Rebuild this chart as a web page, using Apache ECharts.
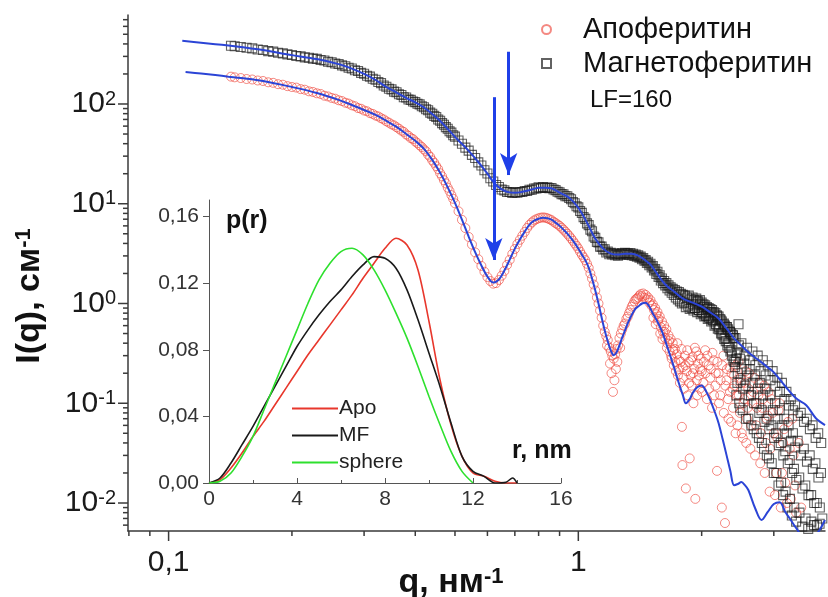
<!DOCTYPE html>
<html><head><meta charset="utf-8">
<script src="https://cdn.jsdelivr.net/npm/echarts@6/dist/echarts.min.js"></script>
<style>html,body{margin:0;padding:0;background:#fff}#c{width:828px;height:597px}</style>
</head><body><div id="c"></div>
<script>
const FONT = '"Liberation Sans", Arial, sans-serif';

// ---------- main plot: I(q) ----------
const smoothQ = [
0.142,0.145,0.15,0.155,0.16,0.165,0.17,0.175,0.18,0.185,
0.19,0.195,0.2,0.205,0.21,0.215,0.22,0.225,0.23,0.235,
0.24,0.245,0.25,0.255,0.26,0.265,0.27,0.275,0.28,0.285,
0.29,0.295,0.3,0.305,0.31,0.315,0.32,0.325,0.33,0.335,
0.34,0.345,0.35,0.355,0.36,0.365,0.37,0.375,0.38,0.385,
0.39,0.395,0.4,0.405,0.41,0.415,0.42,0.425,0.43,0.435,
0.44,0.445,0.45,0.455,0.46,0.465,0.47,0.475,0.48,0.485,
0.49,0.495,0.5,0.51,0.52,0.53,0.54,0.55,0.56,0.57,
0.58,0.59,0.6,0.61,0.62,0.63,0.64,0.65,0.66,0.67,
0.68,0.69,0.7,0.71,0.72,0.73,0.74,0.75,0.76,0.77,
0.78,0.79,0.8,0.81,0.82,0.83,0.84,0.85,0.86,0.87,
0.88,0.89,0.9,0.91,0.92,0.93,0.94,0.95,0.96,0.97,
0.98,0.99,1.0,1.01,1.02,1.03,1.04,1.05,1.06,1.07,
1.08,1.09,1.1,1.11,1.12,1.13,1.14];

const apoSmoothI = [
188,185,182,178,176,172,170,165,163,158,
156,151,148,146,141,139,134,132,128,126,
121,119,115,113,109,107,103,101,97,95,
91,89.5,86,84.5,81,79.5,76.5,75,72,70,
67,65,62.5,61,58.5,56.5,54,52.5,49.5,48,
45.5,44.5,42,40.5,38.5,37,35,33.5,31,29.5,
27.2,25.7,23.8,22.2,20.2,18.8,17.2,16,14.5,13.4,
12.2,11.2,10.1,8.4,6.9,5.7,4.65,3.9,3.25,2.78,
2.38,2.08,1.84,1.68,1.58,1.6,1.72,1.9,2.12,2.44,
2.74,3.14,3.52,3.95,4.35,4.78,5.22,5.72,6.15,6.5,
6.8,7.0,7.15,7.25,7.3,7.25,7.15,7.0,6.85,6.6,
6.4,6.2,6.0,5.75,5.5,5.25,5.0,4.75,4.5,4.25,
4.0,3.78,3.55,3.3,3.08,2.9,2.72,2.5,2.28,2.0,
1.78,1.55,1.35,1.15,1.0,0.85,0.72];

const mfSmoothI = [
383,379,373,366,361,352,348,339,335,326,
322,314,310,303,300,293,291,285,283,276,
273,265,262,255,252,244,239,231,227,218,
214,205,201,192,188,179,175,166,162,153,
149,142,140,133,131,125,123,117,116,111,
110,106,104.5,100.5,99,95,92.8,88.5,86.5,82,
79.8,76,74,70,68,64.3,62,58.6,56.5,53.3,
51.6,48.6,47.1,43.0,40.0,36.5,34.1,30.9,28.7,26.0,
24.2,21.7,20.1,18.0,16.7,15.4,14.7,13.9,13.6,13.1,
13.1,12.8,13.0,12.9,13.1,13.1,13.4,13.4,13.8,13.8,
14.2,14.2,14.6,14.4,14.7,14.4,14.6,14.3,14.4,13.9,
13.7,13.2,13.0,12.5,12.4,11.9,11.9,11.4,11.1,10.4,
10.1,9.45,9.2,8.45,8.1,7.35,7.05,6.35,6.1,5.5,
5.3,4.7,4.55,4.15,4.1,3.72,3.72];

const mfMidQ = [
1.15,1.16,1.17,1.18,1.19,1.2,1.21,1.22,1.23,1.24,
1.25,1.26,1.27,1.28,1.29,1.3,1.31,1.32,1.33,1.34,
1.35,1.36,1.37,1.38,1.39,1.4,1.41,1.42,1.43,1.44,
1.45,1.46,1.47,1.48,1.49,1.5,1.51,1.52,1.53,1.54,
1.55,1.56,1.57,1.58,1.59,1.6,1.61,1.62,1.63,1.64,
1.65,1.66,1.67,1.68,1.69,1.7,1.71,1.72,1.73,1.74,
1.75,1.76,1.77,1.78,1.79,1.8];
const mfMidI = [
3.48,3.5,3.25,3.32,3.12,3.22,3.10,3.18,3.05,3.15,
3.02,3.14,3.10,3.20,3.08,3.22,3.12,3.18,3.08,3.20,
3.05,3.15,3.00,3.10,2.95,3.05,2.88,2.95,2.78,2.85,
2.68,2.72,2.55,2.62,2.42,2.50,2.30,2.38,2.15,2.22,
1.98,2.08,1.85,1.92,1.70,1.78,1.60,1.68,1.52,1.60,
1.42,1.52,1.35,1.45,1.28,1.40,1.22,1.36,1.15,1.32,
1.10,1.30,1.05,1.25,1.00,1.22];

const apoTail = [
[1.15,0.6],[1.16,0.52],[1.17,0.47],[1.175,0.38],[1.18,0.43],[1.19,0.36],[1.195,0.25],[1.2,0.33],[1.205,0.2],[1.21,0.3],
[1.215,0.13],[1.22,0.28],[1.225,0.17],[1.23,0.31],[1.235,0.22],[1.24,0.35],[1.245,0.26],[1.25,0.38],[1.26,0.45],[1.265,0.36],
[1.27,0.5],[1.28,0.55],[1.29,0.6],[1.3,0.63],[1.31,0.7],[1.32,0.74],[1.33,0.8],[1.34,0.86],[1.35,0.93],[1.36,0.98],
[1.37,1.05],[1.38,1.1],[1.39,1.12],[1.4,1.15],[1.41,1.2],[1.42,1.24],[1.43,1.18],[1.44,1.26],[1.45,1.14],[1.46,1.22],
[1.47,1.1],[1.48,1.15],[1.49,1.02],[1.5,1.08],[1.51,0.95],[1.52,0.98],[1.53,0.86],[1.54,0.9],[1.55,0.78],[1.56,0.82],
[1.57,0.7],[1.58,0.74],[1.59,0.58],[1.6,0.66],[1.61,0.52],[1.62,0.6],[1.63,0.45],[1.64,0.55],[1.65,0.4],[1.66,0.48],
[1.67,0.33],[1.68,0.44],[1.69,0.28],[1.7,0.4],[1.71,0.24],[1.72,0.35],[1.73,0.21],[1.74,0.31],[1.75,0.19],[1.76,0.27],
[1.77,0.16],[1.78,0.26],[1.79,0.058],[1.795,0.024],[1.8,0.23],[1.81,0.14],[1.82,0.3],[1.83,0.014],[1.84,0.21],[1.85,0.12],
[1.86,0.26],[1.87,0.028],[1.88,0.19],[1.89,0.15],[1.9,0.29],[1.91,0.1],[1.92,0.22],[1.93,0.011],[1.94,0.33],[1.95,0.12],
[1.96,0.25],[1.97,0.19],[1.98,0.14],[1.99,0.28],[2.0,0.21],[2.02,0.16],[2.04,0.34],[2.06,0.11],[2.08,0.24],[2.1,0.18],
[2.12,0.09],[2.14,0.27],[2.16,0.15],[2.18,0.021],[2.2,0.2],[2.22,0.12],[2.24,0.009],[2.26,0.3],[2.28,0.0063],[2.3,0.17],
[2.32,0.11],[2.34,0.23],[2.36,0.065],[2.38,0.14],[2.4,0.19],[2.42,0.05],[2.44,0.12],[2.46,0.26],[2.48,0.08],[2.5,0.16],
[2.52,0.045],[2.54,0.11],[2.56,0.21],[2.58,0.07],[2.6,0.14],[2.63,0.035],[2.66,0.1],[2.69,0.18],[2.72,0.06],[2.75,0.12],
[2.78,0.025],[2.81,0.09],[2.84,0.15],[2.87,0.04],[2.9,0.075],[2.93,0.013],[2.96,0.11],[3.0,0.05],[3.04,0.02],[3.08,0.085],
[3.12,0.009],[3.16,0.04],[3.2,0.016],[3.25,0.065],[3.3,0.011],[3.35,0.03],[3.4,0.008]];

const apoTail2 = [
[1.525,0.72],[1.545,0.62],[1.565,0.66],[1.585,0.5],[1.605,0.44],[1.625,0.52],[1.645,0.36],[1.665,0.42],[1.685,0.3],[1.705,0.34],
[1.725,0.26],[1.745,0.4],[1.765,0.22],[1.785,0.35],[1.805,0.18],[1.825,0.24],[1.845,0.34],[1.865,0.16],[1.885,0.27],[1.905,0.2],
[1.925,0.36],[1.945,0.17],[1.965,0.3],[1.985,0.22],[2.005,0.13],[2.025,0.26],[2.045,0.2],[2.065,0.3],[2.085,0.14],[2.105,0.22],
[2.125,0.32],[2.145,0.12],[2.165,0.2],[2.185,0.26],[2.205,0.1],[2.225,0.17],[2.245,0.24],[2.265,0.08],[2.285,0.15],[2.305,0.22],
[2.325,0.07],[2.345,0.13],[2.365,0.2],[2.385,0.09],[2.405,0.15],[2.425,0.24],[2.445,0.06],[2.465,0.12],[2.485,0.18],[2.505,0.05],
[2.53,0.1],[2.55,0.16],[2.57,0.04],[2.59,0.09],[2.61,0.2],[2.64,0.06],[2.67,0.13],[2.7,0.03],[2.73,0.09],[2.76,0.16],
[2.79,0.05],[2.82,0.11],[2.85,0.02],[2.88,0.07],[2.91,0.13],[2.94,0.035],[2.98,0.08],[3.02,0.012],[3.06,0.045],[3.1,0.1],
[3.14,0.02],[3.18,0.055],[3.23,0.01],[3.28,0.035],[3.33,0.07],[3.38,0.015],[3.45,0.04],[3.5,0.009]];

const mfTail = [
[1.81,1.02],[1.82,1.2],[1.83,0.92],[1.84,1.15],[1.85,0.95],[1.86,1.2],[1.87,0.88],[1.88,1.1],[1.89,0.9],[1.9,1.15],
[1.91,0.85],[1.92,1.08],[1.93,0.9],[1.94,1.12],[1.95,0.82],[1.96,1.05],[1.97,0.86],[1.98,1.08],[1.99,0.78],[2.0,1.02],
[2.01,0.8],[2.02,0.98],[2.03,0.74],[2.04,0.96],[2.05,0.76],[2.06,0.92],[2.07,0.7],[2.08,0.9],[2.09,0.72],[2.1,0.88],
[2.11,0.66],[2.12,0.86],[2.13,0.68],[2.14,0.82],[2.15,0.6],[2.16,0.8],[2.17,0.62],[2.18,0.76],[2.19,0.56],[2.2,0.74],
[2.21,0.55],[2.22,0.7],[2.23,0.5],[2.24,0.66],[2.25,0.48],[2.26,0.62],[2.27,0.44],[2.28,0.6],[2.29,0.42],[2.3,0.58],
[2.31,0.38],[2.32,0.55],[2.33,0.36],[2.34,0.52],[2.35,0.33],[2.36,0.5],[2.37,0.3],[2.38,0.48],[2.39,0.27],[2.4,0.45],
[2.41,0.23],[2.42,0.45],[2.43,0.12],[2.44,0.32],[2.45,0.2],[2.46,0.62],[2.47,0.1],[2.48,0.28],[2.49,0.17],[2.5,0.4],
[2.52,0.085],[2.54,0.25],[2.56,0.15],[2.58,0.36],[2.6,0.07],[2.62,0.22],[2.64,0.12],[2.66,0.33],[2.68,0.055],[2.7,0.19],
[2.72,0.1],[2.74,0.3],[2.76,0.045],[2.78,0.16],[2.8,0.085],[2.82,0.27],[2.84,0.035],[2.86,0.14],[2.88,0.07],[2.9,0.24],
[2.92,0.028],[2.94,0.12],[2.96,0.06],[2.98,0.21],[3.0,0.02],[3.02,0.1],[3.04,0.05],[3.06,0.18],[3.08,0.015],[3.1,0.085],
[3.12,0.04],[3.14,0.16],[3.16,0.012],[3.18,0.07],[3.2,0.033],[3.22,0.13],[3.24,0.009],[3.26,0.06],[3.28,0.027],[3.3,0.11],
[3.32,0.0075],[3.34,0.05],[3.36,0.022],[3.38,0.095],[3.4,0.0065],[3.43,0.042],[3.46,0.018],[3.49,0.08],[3.52,0.0058],[3.55,0.035],
[3.58,0.015],[3.61,0.07],[3.64,0.0055],[3.67,0.03],[3.7,0.012],[3.73,0.06],[3.76,0.006],[3.79,0.025],[3.82,0.01],[3.85,0.05],
[3.88,0.0062],[3.91,0.02]];

const mfTail2 = [
[1.905,0.98],[1.925,0.9],[1.945,1.05],[1.965,0.86],[1.985,0.98],[2.005,0.82],[2.025,0.93],[2.045,0.75],[2.065,0.88],[2.085,0.72],
[2.105,0.82],[2.125,0.68],[2.145,0.78],[2.165,0.62],[2.185,0.74],[2.205,0.58],[2.225,0.68],[2.245,0.5],[2.265,0.63],[2.285,0.45],
[2.305,0.58],[2.325,0.4],[2.345,0.52],[2.365,0.34],[2.385,0.48],[2.405,0.26],[2.425,0.28],[2.445,0.16],[2.465,0.38],[2.485,0.09],
[2.505,0.22],[2.525,0.14],[2.545,0.3],[2.565,0.07],[2.585,0.19],[2.605,0.12],[2.625,0.27],[2.645,0.06],[2.665,0.16],[2.685,0.1],
[2.705,0.24],[2.725,0.05],[2.745,0.14],[2.765,0.08],[2.785,0.21],[2.805,0.04],[2.825,0.12],[2.845,0.065],[2.865,0.19],[2.885,0.03],
[2.905,0.1],[2.925,0.055],[2.945,0.17],[2.965,0.025],[2.985,0.085],[3.005,0.045],[3.025,0.15],[3.045,0.02],[3.065,0.07],[3.085,0.038],
[3.105,0.13],[3.125,0.016],[3.145,0.06],[3.165,0.03],[3.185,0.11],[3.205,0.013],[3.225,0.05],[3.245,0.025],[3.265,0.095],[3.285,0.011],
[3.305,0.042],[3.325,0.02],[3.345,0.085],[3.365,0.009],[3.385,0.036],[3.405,0.017],[3.435,0.075],[3.465,0.008],[3.495,0.03],[3.525,0.014],
[3.555,0.065],[3.585,0.007],[3.615,0.026],[3.645,0.012],[3.675,0.055],[3.705,0.0065],[3.735,0.022],[3.765,0.01],[3.795,0.045],[3.825,0.006],
[3.855,0.018],[3.885,0.009],[3.915,0.04],[3.94,0.007]];

const apoFit = [
[0.11,209],[0.12,202],[0.13,195],[0.14,188],[0.15,182],[0.17,170],[0.2,148],[0.23,129],[0.26,110],[0.28,97.7],
[0.3,87.1],[0.32,77.6],[0.34,67.6],[0.36,58.9],[0.38,50.1],[0.4,42.7],[0.42,35.5],[0.44,27.5],[0.46,20.4],[0.48,14.6],
[0.5,10.2],[0.52,6.92],[0.54,4.68],[0.56,3.27],[0.58,2.4],[0.6,1.86],[0.62,1.62],[0.64,1.74],[0.66,2.14],[0.68,2.75],
[0.7,3.55],[0.72,4.37],[0.74,5.25],[0.76,6.17],[0.78,6.76],[0.8,7.08],[0.82,7.24],[0.84,7.16],[0.86,6.92],[0.88,6.46],
[0.9,6.03],[0.92,5.5],[0.94,5.01],[0.96,4.52],[0.98,4.03],[1.0,3.55],[1.02,3.09],[1.04,2.72],[1.06,2.29],[1.08,1.78],
[1.1,1.35],[1.12,1.0],[1.14,0.724],[1.16,0.537],[1.18,0.417],[1.2,0.339],[1.22,0.302],[1.24,0.324],[1.26,0.38],[1.28,0.457],
[1.3,0.537],[1.32,0.631],[1.34,0.724],[1.36,0.813],[1.38,0.891],[1.4,0.933],[1.43,1.0],[1.46,1.02],[1.49,0.933],[1.52,0.794],
[1.55,0.692],[1.6,0.525],[1.65,0.363],[1.7,0.251],[1.75,0.17],[1.8,0.12],[1.83,0.1],[1.87,0.11],[1.9,0.126],[1.95,0.145],
[2.0,0.151],[2.05,0.132],[2.1,0.107],[2.15,0.0832],[2.2,0.0631],[2.25,0.0437],[2.3,0.0302],[2.35,0.0209],[2.4,0.0151],[2.45,0.0155],
[2.5,0.0162],[2.55,0.0151],[2.6,0.0135],[2.7,0.00891],[2.8,0.00676],[2.9,0.00813],[3.0,0.00977],[3.1,0.0102],[3.2,0.00813],[3.3,0.00676],
[3.4,0.00562],[3.6,0.00427],[3.8,0.00479],[4.0,0.00676]];

const mfFit = [
[0.108,430],[0.12,412],[0.13,398],[0.14,385],[0.15,372],[0.17,347],[0.2,309],[0.23,282],[0.26,251],[0.28,226],
[0.3,200],[0.32,174],[0.34,148],[0.36,130],[0.38,115],[0.4,104],[0.42,92.3],[0.44,79.4],[0.46,67.6],[0.48,56.2],
[0.5,46.8],[0.52,39.8],[0.54,33.9],[0.56,28.5],[0.58,24.0],[0.6,20.0],[0.62,16.6],[0.64,14.6],[0.66,13.5],[0.68,13.0],
[0.7,12.9],[0.72,13.0],[0.75,13.5],[0.78,14.1],[0.8,14.5],[0.83,14.5],[0.86,14.3],[0.9,12.9],[0.95,11.5],[1.0,9.12],
[1.05,6.46],[1.1,4.47],[1.15,3.55],[1.2,3.16],[1.25,3.09],[1.3,3.16],[1.35,3.16],[1.4,3.02],[1.45,2.75],[1.5,2.45],
[1.55,2.04],[1.6,1.7],[1.65,1.48],[1.7,1.35],[1.8,1.12],[1.9,1.02],[2.0,0.933],[2.1,0.813],[2.2,0.708],[2.3,0.562],
[2.4,0.447],[2.5,0.38],[2.6,0.324],[2.7,0.288],[2.8,0.257],[2.9,0.229],[3.0,0.204],[3.2,0.148],[3.4,0.112],[3.6,0.0955],
[3.8,0.0708],[4.0,0.0603]];

// arrows marking the minima: [q, I from, I to]
const arrows = [[0.622, 117, 2.73], [0.676, 334, 19.4]];

// axis ranges and ticks
const X_MIN = 0.0796, X_MAX = 4.0, Y_MIN = 0.00524, Y_MAX = 780;
const xMajorTicks = [0.1, 1];
const xMinorTicks = [0.08,0.09,0.2,0.3,0.4,0.5,0.6,0.7,0.8,0.9,2,3];
const yMajorTicks = [0.01,0.1,1,10,100];
const yMinorTicks = [0.006,0.007,0.008,0.009,0.02,0.03,0.04,0.05,0.06,0.07,0.08,0.09,
  0.2,0.3,0.4,0.5,0.6,0.7,0.8,0.9,2,3,4,5,6,7,8,9,20,30,40,50,60,70,80,90,200,300,400,500,600,700];

// ---------- inset: p(r) ----------
const rGrid = [0,0.5,1,1.5,2,2.5,3,3.5,4,4.5,5,5.5,6,6.5,7,7.5,8,8.5,9,9.5,10,10.5,11,11.5,12,12.5,13,13.5,13.8,14];
const pApo = [0,0.002,0.009,0.018,0.028,0.037,0.047,0.057,0.067,0.077,0.086,0.095,0.104,0.113,0.123,0.132,0.141,0.147,0.143,0.128,0.097,0.062,0.035,0.016,0.006,0.004,0.001,0,0,0];
const pMF = [0,0.003,0.012,0.023,0.034,0.046,0.058,0.070,0.082,0.092,0.101,0.109,0.116,0.124,0.131,0.136,0.135,0.129,0.116,0.098,0.078,0.058,0.036,0.016,0.007,0.004,0,0.0005,0.003,0];
const pSphere = [0,0.001,0.006,0.016,0.028,0.044,0.060,0.076,0.092,0.108,0.122,0.132,0.139,0.141,0.137,0.128,0.116,0.102,0.087,0.070,0.052,0.035,0.019,0.007,0];
const insetYTicks = [0,0.04,0.08,0.12,0.16];

// ---------- build ----------
const AXIS = '#3a3a3a';
const BLUE = '#2b44d6';
const zip = (q, v) => q.slice(0, v.length).map((x, i) => [x, v[i]]);

const apoData = zip(smoothQ, apoSmoothI).concat(apoTail, apoTail2);
const mfData = zip(smoothQ, mfSmoothI).concat(zip(mfMidQ, mfMidI), mfTail, mfTail2);

function tickSeries(values, dir, len) {
  return {
    type: 'custom', xAxisIndex: 0, yAxisIndex: 0, silent: true, clip: false, z: 5,
    data: values.map(v => dir === 'x' ? [v, Y_MIN] : [X_MIN, v]),
    renderItem: (params, api) => {
      const p = api.coord([api.value(0), api.value(1)]);
      const shape = dir === 'x'
        ? {x1: p[0], y1: p[1], x2: p[0], y2: p[1] + len}
        : {x1: p[0], y1: p[1], x2: p[0] - len, y2: p[1]};
      return {type: 'line', shape, style: {stroke: AXIS, lineWidth: 1.5}};
    }
  };
}

const isPow10 = v => { const e = Math.log10(v); return Math.abs(e - Math.round(e)) < 1e-6; };

const chart = echarts.init(document.getElementById('c'));
chart.setOption({
  animation: false,
  backgroundColor: '#fff',
  grid: [
    {left: 128, top: 15, width: 702.6, height: 516},
    {left: 209, top: 200, width: 352, height: 283}
  ],
  xAxis: [
    {type: 'log', logBase: 10, gridIndex: 0, min: X_MIN, max: X_MAX,
     axisLine: {lineStyle: {color: AXIS, width: 1.5}}, axisTick: {show: false}, splitLine: {show: false},
     axisLabel: {fontFamily: FONT, fontSize: 30, color: '#1a1a1a', margin: 17,
       formatter: v => isPow10(v) ? String(Math.round(v * 10) / 10).replace('.', ',') : ''}},
    {type: 'value', gridIndex: 1, min: 0, max: 16, interval: 4,
     axisLine: {lineStyle: {color: '#555', width: 1}},
     axisTick: {inside: true, length: 5, lineStyle: {color: '#555'}},
     minorTick: {show: true, splitNumber: 2, length: 3, lineStyle: {color: '#555'}},
     splitLine: {show: false},
     axisLabel: {fontFamily: FONT, fontSize: 21, color: '#333', margin: 6}}
  ],
  yAxis: [
    {type: 'log', logBase: 10, gridIndex: 0, min: Y_MIN, max: Y_MAX,
     axisLine: {show: true, lineStyle: {color: AXIS, width: 1.5}}, axisTick: {show: false}, splitLine: {show: false},
     axisLabel: {fontFamily: FONT, color: '#1a1a1a', margin: 12,
       formatter: v => isPow10(v) ? '{b|10}{s|' + Math.round(Math.log10(v)) + '}' : '',
       rich: {b: {fontFamily: FONT, fontSize: 30, lineHeight: 30, color: '#1a1a1a'},
              s: {fontFamily: FONT, fontSize: 20, lineHeight: 20, verticalAlign: 'top', color: '#1a1a1a'}}}},
    {type: 'value', gridIndex: 1, min: 0, max: 0.17, interval: 0.04,
     axisLine: {show: true, lineStyle: {color: '#555', width: 1}},
     axisTick: {length: 6, lineStyle: {color: '#555'}, customValues: insetYTicks},
     splitLine: {show: false},
     axisLabel: {fontFamily: FONT, fontSize: 21, color: '#333', margin: 10, customValues: insetYTicks,
       formatter: v => Math.abs(v / 0.04 - Math.round(v / 0.04)) < 1e-6 ? v.toFixed(2).replace('.', ',') : ''}}
  ],
  legend: [
    {data: ['Апоферитин', 'Магнетоферитин'], orient: 'vertical', left: 541, top: 15, padding: 0,
     itemWidth: 9, itemHeight: 9, itemGap: 5, selectedMode: false,
     textStyle: {fontFamily: FONT, fontSize: 29, color: '#111', padding: [0, 0, 0, 27]}},
    {data: ['Apo', 'MF', 'sphere'], orient: 'vertical', left: 292, top: 398, padding: 0,
     icon: 'rect', itemWidth: 46, itemHeight: 2, itemGap: 6, selectedMode: false,
     textStyle: {fontFamily: FONT, fontSize: 21, color: '#222', padding: [0, 0, 0, -4]}}
  ],
  graphic: [
    {type: 'text', left: 590, top: 88, style: {text: 'LF=160', font: '24px ' + FONT, fill: '#111'}},
    {type: 'text', left: 226, top: 209, style: {text: 'p(r)', font: 'bold 25px ' + FONT, fill: '#111'}},
    {type: 'text', left: 512, top: 439, style: {text: 'r, nm', font: 'bold 25px ' + FONT, fill: '#111'}},
    {type: 'text', x: 451, y: 583, style: {text: '{a|q, нм}{b|-1}', align: 'center', verticalAlign: 'middle',
      rich: {a: {fontFamily: FONT, fontSize: 34, fontWeight: 'bold', lineHeight: 34, fill: '#111'},
             b: {fontFamily: FONT, fontSize: 22, fontWeight: 'bold', lineHeight: 22, verticalAlign: 'top', fill: '#111'}}}},
    {type: 'text', x: 30, y: 296, rotation: Math.PI / 2, style: {text: '{a|I(q), см}{b|-1}', align: 'center', verticalAlign: 'middle',
      rich: {a: {fontFamily: FONT, fontSize: 34, fontWeight: 'bold', lineHeight: 34, fill: '#111'},
             b: {fontFamily: FONT, fontSize: 22, fontWeight: 'bold', lineHeight: 22, verticalAlign: 'top', fill: '#111'}}}}
  ],
  series: [
    {name: 'Апоферитин', type: 'scatter', xAxisIndex: 0, yAxisIndex: 0, data: apoData,
     symbol: 'circle', symbolSize: 9, z: 2,
     itemStyle: {color: 'rgba(0,0,0,0)', borderColor: 'rgba(238,70,60,0.8)', borderWidth: 1}},
    {name: 'Магнетоферитин', type: 'scatter', xAxisIndex: 0, yAxisIndex: 0, data: mfData,
     symbol: 'rect', symbolSize: 9, z: 3,
     itemStyle: {color: 'rgba(0,0,0,0)', borderColor: 'rgba(25,25,25,0.85)', borderWidth: 1.1}},
    {name: 'apoFit', type: 'line', xAxisIndex: 0, yAxisIndex: 0, data: apoFit, smooth: 0.35,
     symbol: 'none', z: 4, lineStyle: {color: BLUE, width: 2},
     markLine: {silent: true, symbol: ['none', 'arrow'], symbolSize: [13, 22], animation: false,
       lineStyle: {color: '#1f3fe8', width: 3, type: 'solid'}, label: {show: false},
       emphasis: {disabled: true},
       data: arrows.map(a => [{coord: [a[0], a[1]]}, {coord: [a[0], a[2]]}])}},
    {name: 'mfFit', type: 'line', xAxisIndex: 0, yAxisIndex: 0, data: mfFit, smooth: 0.35,
     symbol: 'none', z: 4, lineStyle: {color: BLUE, width: 2}},
    tickSeries(xMajorTicks, 'x', 10),
    tickSeries(xMinorTicks, 'x', 5),
    tickSeries(yMajorTicks, 'y', 10),
    tickSeries(yMinorTicks, 'y', 5),
    {name: 'Apo', type: 'line', xAxisIndex: 1, yAxisIndex: 1, data: zip(rGrid, pApo), smooth: 0.3,
     symbol: 'none', lineStyle: {color: '#e8372c', width: 1.6}, itemStyle: {color: '#e8372c'}},
    {name: 'MF', type: 'line', xAxisIndex: 1, yAxisIndex: 1, data: zip(rGrid, pMF), smooth: 0.3,
     symbol: 'none', lineStyle: {color: '#1a1a1a', width: 1.6}, itemStyle: {color: '#1a1a1a'}},
    {name: 'sphere', type: 'line', xAxisIndex: 1, yAxisIndex: 1, data: zip(rGrid, pSphere), smooth: 0.3,
     symbol: 'none', lineStyle: {color: '#2ee02e', width: 1.6}, itemStyle: {color: '#2ee02e'}}
  ]
});
</script>
</body></html>
